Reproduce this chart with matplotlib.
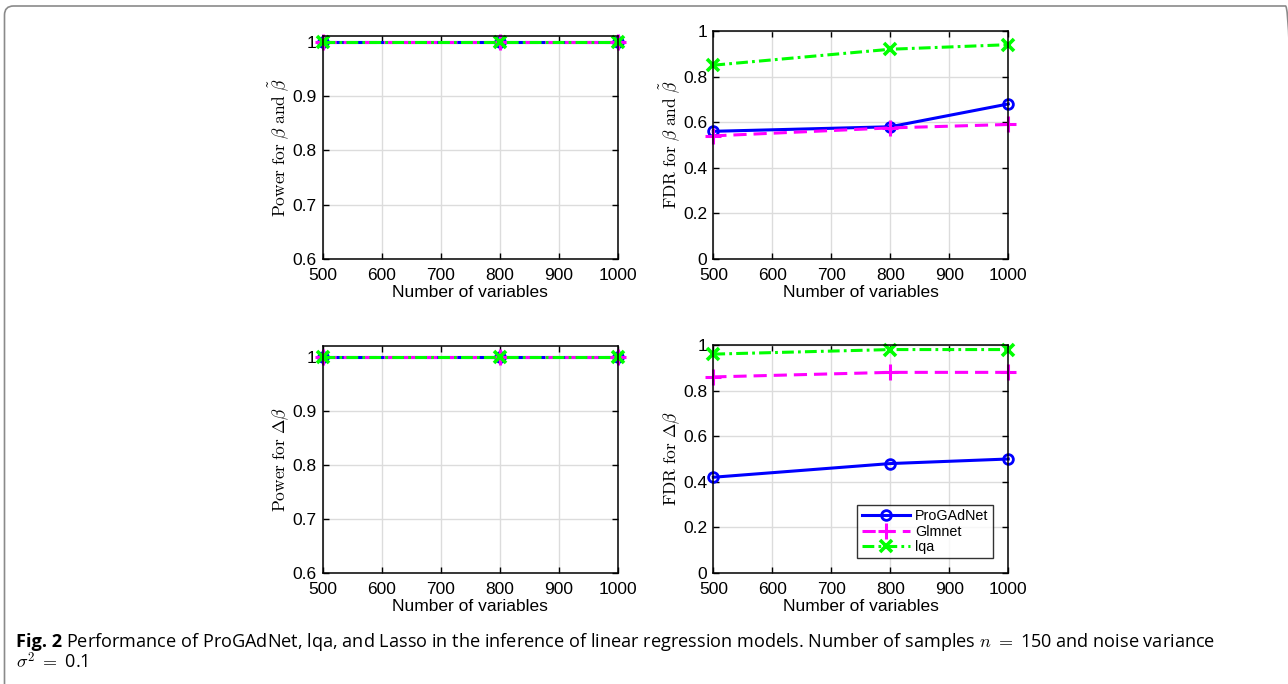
import matplotlib
matplotlib.use("Agg")
import matplotlib.pyplot as plt
from matplotlib.patches import FancyBboxPatch
from matplotlib.transforms import IdentityTransform
from matplotlib.ticker import FuncFormatter

plt.rcParams["mathtext.fontset"] = "cm"
plt.rcParams["lines.scale_dashes"] = False

# ---- data -------------------------------------------------------------
n_vars = [500, 800, 1000]
method_names = ["ProGAdNet", "Glmnet", "lqa"]

power_beta_progadnet = [1.0, 1.0, 1.0]
power_beta_glmnet = [1.0, 1.0, 1.0]
power_beta_lqa = [1.0, 1.0, 1.0]

fdr_beta_progadnet = [0.56, 0.58, 0.68]
fdr_beta_glmnet = [0.54, 0.575, 0.59]
fdr_beta_lqa = [0.85, 0.92, 0.94]

power_delta_progadnet = [1.0, 1.0, 1.0]
power_delta_glmnet = [1.0, 1.0, 1.0]
power_delta_lqa = [1.0, 1.0, 1.0]

fdr_delta_progadnet = [0.42, 0.48, 0.50]
fdr_delta_glmnet = [0.86, 0.88, 0.88]
fdr_delta_lqa = [0.96, 0.98, 0.98]

x_ticks = [500, 600, 700, 800, 900, 1000]
power_ticks = [0.6, 0.7, 0.8, 0.9, 1.0]
fdr_ticks = [0.0, 0.2, 0.4, 0.6, 0.8, 1.0]

# ---- styles -----------------------------------------------------------
styles = [
    dict(color="#0000ff", ls="-", marker="o", ms=7, mew=2.0, mfc="none", lw=2.2),
    dict(color="#ff00ff", dashes=(9.5, 5.0), marker="+", ms=11, mew=2.2, lw=2.2),
    dict(color="#00ff00", dashes=(8.5, 3.0, 2.0, 3.0), marker="x", ms=8, mew=2.6, lw=2.2),
]

W, H = 1288, 684
fig = plt.figure(figsize=(W / 100, H / 100), dpi=100)

TICK_FAMILY = "Liberation Sans"
TICK_SIZE = 12.5


def px_axes(left, right, top, bottom):
    return fig.add_axes([left / W, 1 - bottom / H, (right - left) / W, (bottom - top) / H])


def style_axes(ax, yticks, ylim, ylabel, label_x):
    ax.set_xlim(500, 1000)
    ax.set_ylim(*ylim)
    ax.set_xticks(x_ticks)
    ax.set_yticks(yticks)
    fmt = FuncFormatter(lambda v, p: "%g" % round(v, 3))
    ax.xaxis.set_major_formatter(fmt)
    ax.yaxis.set_major_formatter(fmt)
    ax.tick_params(direction="in", length=4, width=1.0, top=True, right=True,
                   labelsize=TICK_SIZE)
    ax.tick_params(axis="x", pad=6.5)
    ax.tick_params(axis="y", pad=4.5)
    for lab in ax.get_xticklabels() + ax.get_yticklabels():
        lab.set_family(TICK_FAMILY)
    ax.grid(True, color="#dcdcdc", lw=1.0)
    ax.set_axisbelow(True)
    for sp in ax.spines.values():
        sp.set_linewidth(1.1)
        sp.set_color("black")
    ax.set_xlabel("Number of variables", family=TICK_FAMILY, size=12.5, labelpad=1.5)
    ax.set_ylabel(ylabel, size=12.5)
    ax.yaxis.set_label_coords(label_x, 0.5)


def draw(ax, series):
    lines = []
    for vals, name, st in zip(series, method_names, styles):
        (ln,) = ax.plot(n_vars, vals, label=name, clip_on=False, **st)
        lines.append(ln)
    return lines


ax_tl = px_axes(322.5, 617.5, 36, 259)
ax_tr = px_axes(713.3, 1008.3, 31, 259)
ax_bl = px_axes(322.5, 617.5, 346, 573)
ax_br = px_axes(713.3, 1008.3, 345, 573)

draw(ax_tl, [power_beta_progadnet, power_beta_glmnet, power_beta_lqa])
draw(ax_tr, [fdr_beta_progadnet, fdr_beta_glmnet, fdr_beta_lqa])
draw(ax_bl, [power_delta_progadnet, power_delta_glmnet, power_delta_lqa])
lines = draw(ax_br, [fdr_delta_progadnet, fdr_delta_glmnet, fdr_delta_lqa])

style_axes(ax_tl, power_ticks, (0.6, 1.011),
           r"$\mathrm{Power\ for\ }\beta\mathrm{\ and\ }\tilde{\beta}$", -0.107)
style_axes(ax_tr, fdr_ticks, (0.0, 1.0),
           r"$\mathrm{FDR\ for\ }\beta\mathrm{\ and\ }\tilde{\beta}$", -0.105)
style_axes(ax_bl, power_ticks, (0.6, 1.0204),
           r"$\mathrm{Power\ for\ }\Delta\beta$", -0.107)
style_axes(ax_br, fdr_ticks, (0.0, 1.0),
           r"$\mathrm{FDR\ for\ }\Delta\beta$", -0.105)

leg = ax_br.legend(handles=lines, loc="lower right", bbox_to_anchor=(0.948, 0.066),
                   prop=dict(family=TICK_FAMILY, size=10.3), frameon=True,
                   fancybox=False, borderpad=0.3, labelspacing=0.08,
                   handlelength=3.4, handletextpad=0.35, borderaxespad=0.0)
leg.get_frame().set_edgecolor("black")
leg.get_frame().set_linewidth(1.0)

# ---- caption and frame ------------------------------------------------
cap_font = dict(family="Open Sans", size=13.05)
fig_txt = fig.text(16 / W, 1 - 647 / H, "Fig. 2", weight="bold", va="baseline", **cap_font)
fig.canvas.draw()
bb = fig_txt.get_window_extent()
fig.text((bb.x1 + 4) / W, 1 - 647 / H,
         r"Performance of ProGAdNet, lqa, and Lasso in the inference of linear regression "
         r"models. Number of samples $n$ $=$ 150 and noise variance",
         va="baseline", **cap_font)
fig.text(16 / W, 1 - 668 / H, r"$\sigma^2$ $=$ 0.1", va="baseline", **cap_font)

frame = FancyBboxPatch((4.5, -30), 1290, 684 - 6 + 30, transform=IdentityTransform(),
                       boxstyle="round,pad=0,rounding_size=9", fill=False,
                       edgecolor="#8a8a8a", lw=1.2)
fig.patches.append(frame)

fig.savefig("out.png", dpi=100)
